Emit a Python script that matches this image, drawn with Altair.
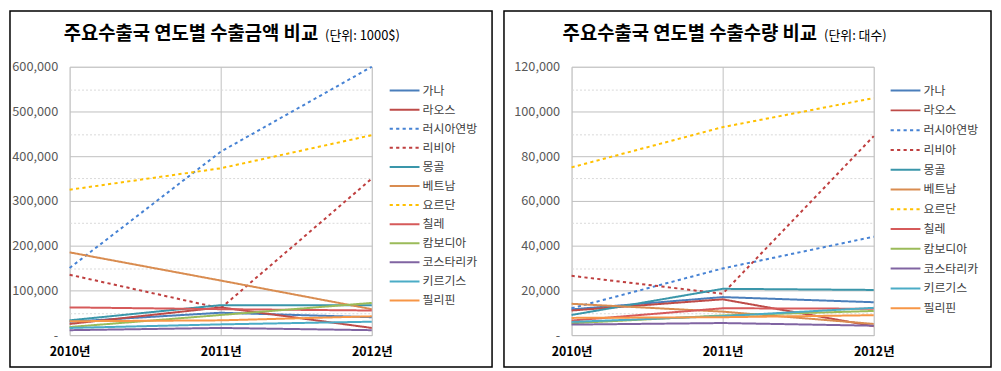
import altair as alt
import pandas as pd

FONT = "Noto Sans CJK KR"

countries = ["가나", "라오스", "러시아연방", "리비아", "몽골", "베트남",
             "요르단", "칠레", "캄보디아", "코스타리카", "키르기스", "필리핀"]
years = [2010, 2011, 2012]

# 수출금액 (단위: 1000$) : 2010, 2011, 2012
amount_ghana = [30000, 50000, 40000]
amount_laos = [25000, 62000, 16000]
amount_russia = [150000, 410000, 600000]
amount_libya = [135000, 60000, 350000]
amount_mongolia = [33000, 67000, 67000]
amount_vietnam = [185000, 122000, 58000]
amount_jordan = [325000, 373000, 447000]
amount_chile = [62000, 58000, 55000]
amount_cambodia = [18000, 45000, 72000]
amount_costarica = [11000, 16000, 11000]
amount_kyrgyz = [16000, 24000, 30000]
amount_philippines = [31000, 33000, 42000]

# 수출수량 (단위: 대수) : 2010, 2011, 2012
qty_ghana = [11500, 17000, 14700]
qty_laos = [11000, 16000, 4000]
qty_russia = [12000, 29800, 44000]
qty_libya = [26500, 18500, 89000]
qty_mongolia = [9000, 20700, 20200]
qty_vietnam = [14000, 10500, 5000]
qty_jordan = [75000, 93000, 106000]
qty_chile = [6500, 12000, 11800]
qty_cambodia = [5300, 8800, 10800]
qty_costarica = [4700, 5400, 4200]
qty_kyrgyz = [5900, 8500, 12200]
qty_philippines = [7700, 8000, 8900]

amount_series = [amount_ghana, amount_laos, amount_russia, amount_libya, amount_mongolia,
                 amount_vietnam, amount_jordan, amount_chile, amount_cambodia,
                 amount_costarica, amount_kyrgyz, amount_philippines]
qty_series = [qty_ghana, qty_laos, qty_russia, qty_libya, qty_mongolia, qty_vietnam,
              qty_jordan, qty_chile, qty_cambodia, qty_costarica, qty_kyrgyz, qty_philippines]

colors = ["#4A7EBB", "#BE4B48", "#4682D4", "#BF3F3F", "#3A96AA", "#D98C50",
          "#FFC000", "#D65A5A", "#9BBB59", "#8064A2", "#4BACC6", "#F79646"]
dotted = ["러시아연방", "리비아", "요르단"]
dashes = [[3.2, 3.3] if c in dotted else [1, 0] for c in countries]
widths = [3.4 if c in dotted else 2 for c in countries]


def long_df(series):
    rows = []
    for c, vals in zip(countries, series):
        for y, v in zip(years, vals):
            rows.append({"country": c, "year": y, "value": v})
    return pd.DataFrame(rows)


def panel(series, title_main, title_sub, main_x, sub_x, ymax, step, box_x, box_x2,
          legend_x, legend_y, row_pad):
    df = long_df(series)
    major = step * 2
    yvals = [i * step for i in range(int(ymax / step) + 1)]
    W, H = 304, 270

    box = alt.Chart(pd.DataFrame({"box": [0]})).mark_rect(
        filled=False, stroke="#000000", strokeWidth=1.5
    ).encode(x=alt.value(box_x), x2=alt.value(box_x2), y=alt.value(-56), y2=alt.value(302))

    t_main = alt.Chart(pd.DataFrame({"t": [title_main]})).mark_text(
        font=FONT, fontSize=18.9, fontWeight="bold", color="#000000",
        align="left", baseline="middle"
    ).encode(text="t:N", x=alt.value(main_x), y=alt.value(-33))

    t_sub = alt.Chart(pd.DataFrame({"t": [title_sub]})).mark_text(
        font=FONT, fontSize=13, color="#000000", align="left", baseline="middle"
    ).encode(text="t:N", x=alt.value(sub_x), y=alt.value(-31))

    lines = alt.Chart(df).mark_line(strokeCap="butt", strokeJoin="round").encode(
        x=alt.X("year:Q",
                scale=alt.Scale(domain=[2010, 2012], nice=False, zero=False),
                axis=alt.Axis(values=years, labelExpr="datum.value + '년'", title=None,
                              grid=True, gridColor="#BFBFBF", ticks=False,
                              domainColor="#BFBFBF", labelFont=FONT, labelFontSize=12.5,
                              labelFontWeight="bold", labelColor="#000000",
                              labelPadding=11, labelFlush=False)),
        y=alt.Y("value:Q",
                scale=alt.Scale(domain=[0, ymax], nice=False),
                axis=alt.Axis(values=yvals,
                              labelExpr=f"datum.value % {major} !== 0 ? '' : (datum.value === 0 ? '-' : format(datum.value, ','))",
                              title=None, grid=True, domain=False, ticks=False,
                              gridColor={"condition": {"test": f"datum.value % {major} !== 0", "value": "#D9D9D9"}, "value": "#BFBFBF"},
                              gridDash={"condition": {"test": f"datum.value % {major} !== 0", "value": [2, 2]}, "value": []},
                              labelFont=FONT, labelFontSize=12.8, labelColor="#595959",
                              labelPadding=12)),
        color=alt.Color("country:N", scale=alt.Scale(domain=countries, range=colors),
                        legend=alt.Legend(title=None, orient="none", legendX=legend_x,
                                          legendY=legend_y, symbolType="M-3,0H3", symbolSize=100,
                                          labelFont=FONT, labelFontSize=12,
                                          labelColor="#404040", rowPadding=row_pad,
                                          labelOffset=12, padding=0, symbolOffset=0)),
        strokeDash=alt.StrokeDash("country:N", scale=alt.Scale(domain=countries, range=dashes)),
        strokeWidth=alt.StrokeWidth("country:N", scale=alt.Scale(domain=countries, range=widths)),
    )

    return alt.layer(box, t_main, t_sub, lines).properties(width=W, height=H)


left = panel(amount_series, "주요수출국 연도별 수출금액 비교", "(단위: 1000$)",
             -6, 257, 600000, 50000, -60, 425, 331, 18, 7.2)
right = panel(qty_series, "주요수출국 연도별 수출수량 비교", "(단위: 대수)",
              -9, 254, 120000, 10000, -68, 422, 330, 18, 7.9)

chart = alt.hconcat(left, right, spacing=8).resolve_scale(
    color="independent", strokeDash="independent", strokeWidth="independent"
).resolve_legend(
    color="independent", strokeDash="independent", strokeWidth="independent"
).properties(padding=0).configure_view(
    stroke=None
).configure(font=FONT)

chart.save("out.html", embed_options={"renderer": "svg", "actions": False})
